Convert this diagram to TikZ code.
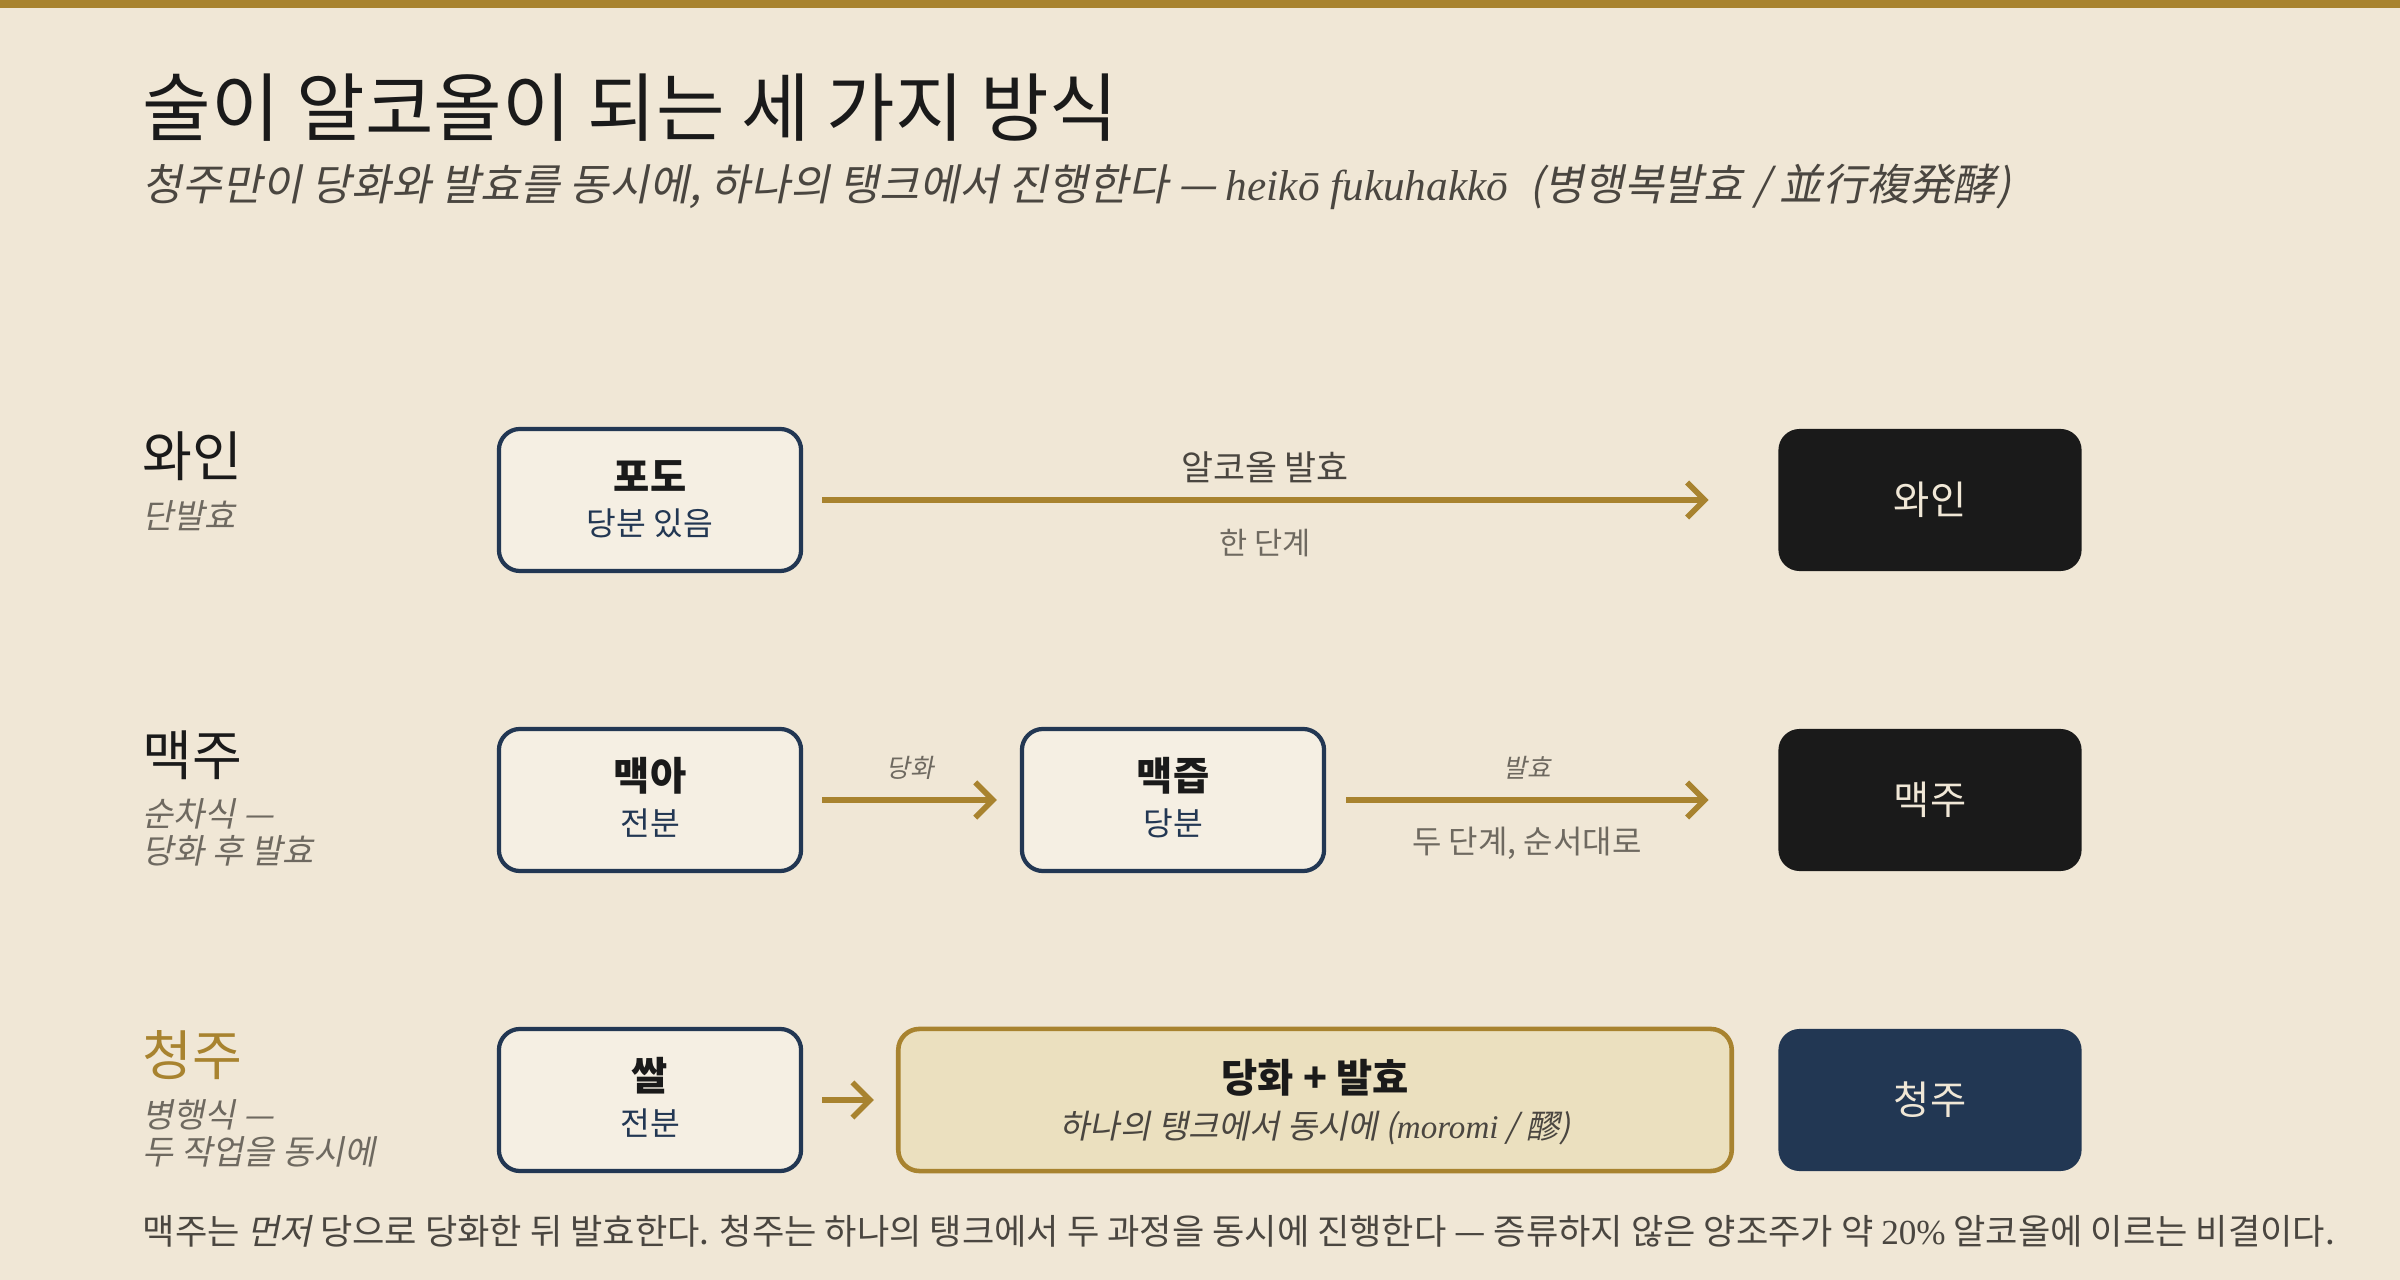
\documentclass[tikz,border=0pt]{standalone}
\usepackage{fontspec}
\setmainfont{Noto Sans CJK KR}[AutoFakeSlant=0.2]
\newfontfamily\latinserif{Liberation Serif}
\usetikzlibrary{arrows.meta}
\usetikzlibrary{calc}
\definecolor{paper}{HTML}{F0E7D6}
\definecolor{gold}{HTML}{A8832F}
\definecolor{navy}{HTML}{223753}
\definecolor{ink}{HTML}{1A1A1A}
\definecolor{boxfill}{HTML}{F5EFE3}
\definecolor{tankfill}{HTML}{EBE0BF}
\definecolor{muted}{HTML}{4A4640}
\definecolor{soft}{HTML}{6E6960}
\tikzset{srcbox/.style = {draw = navy, fill = boxfill, line width = 1.2pt, rounded corners = 6pt, minimum width = 3.02cm, minimum height = 1.42cm}}
\tikzset{endbox/.style = {fill = ink, rounded corners = 6pt, minimum width = 3.03cm, minimum height = 1.42cm, text = paper, font = \fontsize{11.2}{13}\selectfont}}
\tikzset{tankbox/.style = {draw = gold, fill = tankfill, line width = 1.3pt, rounded corners = 6pt, minimum width = 8.33cm, minimum height = 1.42cm}}
\tikzset{flow/.style = {draw = gold, line width = 1.6pt, -{Straight Barb[length = 5pt, width = 10pt]}}}
\tikzset{boxhead/.style = {inner sep = 0, text = ink, font = \bfseries\fontsize{11.2}{13}\selectfont}}
\tikzset{boxsub/.style = {inner sep = 0, text = navy, font = \fontsize{9.2}{11}\selectfont}}
\tikzset{rowname/.style = {anchor = west, inner sep = 0, text = ink, font = \fontsize{15.4}{18}\selectfont}}
\tikzset{rownote/.style = {anchor = west, inner sep = 0, align = left, text = soft, font = \itshape\fontsize{9.6}{10.5}\selectfont}}
\tikzset{steplabel/.style = {inner sep = 0, text = soft, font = \fontsize{8.7}{10}\selectfont}}

\begin{document}
\begin{tikzpicture}[x = 0.01cm, y = -0.01cm]
    \useasboundingbox (0, 0) rectangle (2400, 1280);
    \fill [paper] (0, 0) rectangle (2400, 1280);
    \fill [gold] (0, 0) rectangle (2400, 8);

    \node [anchor = west, inner sep = 0, text = ink, font = \fontsize{21.2}{25}\selectfont] (title) at (142, 108) {술이 알코올이 되는 세 가지 방식};
    \node [anchor = west, inner sep = 0, text = muted, font = \itshape\fontsize{12.3}{15}\selectfont] (subtitle) at (142, 187)
        {청주만이 당화와 발효를 동시에, 하나의 탱크에서 진행한다 — {\latinserif heikō fukuhakkō}\enspace(병행복발효 / 並行複発酵)};

    \node [rowname] (winename) at (142, 456) {와인};
    \node [rownote] (winenote) at (142, 516) {단발효};
    \node [rowname] (beername) at (142, 755) {맥주};
    \node [rownote] (beernote) at (142, 832) {순차식 —\\당화 후 발효};
    \node [rowname, text = gold] (sakename) at (142, 1055) {청주};
    \node [rownote] (sakenote) at (142, 1133) {병행식 —\\두 작업을 동시에};

    \node [srcbox] (grape) at (650, 500) {};
    \node [boxhead] (grapehead) at ($(grape) + (0, -24)$) {포도};
    \node [boxsub] (grapesub) at ($(grape) + (0, 23)$) {당분 있음};
    \node [endbox] (wine) at (1930, 500) {와인};
    \draw [flow, shorten <= 0.19cm, shorten >= 0.69cm] (grape) -- (wine);
    \node [inner sep = 0, text = muted, font = \fontsize{9.9}{12}\selectfont] (winestep) at (1265, 467) {알코올 발효};
    \node [steplabel] (winecount) at (1265, 543) {한 단계};

    \node [srcbox] (malt) at (650, 800) {};
    \node [boxhead] (malthead) at ($(malt) + (0, -24)$) {맥아};
    \node [boxsub] (maltsub) at ($(malt) + (0, 23)$) {전분};
    \node [srcbox] (wort) at (1173, 800) {};
    \node [boxhead] (worthead) at ($(wort) + (0, -24)$) {맥즙};
    \node [boxsub] (wortsub) at ($(wort) + (0, 23)$) {당분};
    \node [endbox] (beer) at (1930, 800) {맥주};
    \draw [flow, shorten <= 0.19cm, shorten >= 0.23cm] (malt) -- (wort);
    \draw [flow, shorten <= 0.2cm, shorten >= 0.69cm] (wort) -- (beer);
    \node [steplabel, font = \itshape\fontsize{7.3}{9}\selectfont] (maltstep) at (910, 768) {당화};
    \node [steplabel, font = \itshape\fontsize{7.3}{9}\selectfont] (wortstep) at (1527, 768) {발효};
    \node [steplabel, font = \fontsize{9.1}{11}\selectfont] (beercount) at (1527, 843) {두 단계, 순서대로};

    \node [srcbox] (rice) at (650, 1100) {};
    \node [boxhead] (ricehead) at ($(rice) + (0, -24)$) {쌀};
    \node [boxsub] (ricesub) at ($(rice) + (0, 23)$) {전분};
    \node [tankbox] (tank) at (1315, 1100) {};
    \node [boxhead] (tankhead) at ($(tank) + (0, -22)$) {당화 + 발효};
    \node [inner sep = 0, text = muted, font = \itshape\fontsize{9.4}{11}\selectfont] (tanksub) at ($(tank) + (0, 28)$)
        {하나의 탱크에서 동시에 ({\latinserif moromi} / 醪)};
    \node [endbox, fill = navy] (sake) at (1930, 1100) {청주};
    \draw [flow, shorten <= 0.19cm, shorten >= 0.22cm] (rice) -- (tank);

    \node [anchor = west, inner sep = 0, text = muted, font = \fontsize{10}{12}\selectfont] (footer) at (142, 1231)
        {맥주는 \emph{먼저} 당으로 당화한 뒤 발효한다. 청주는 하나의 탱크에서 두 과정을 동시에 진행한다 — 증류하지 않은 양조주가 약 {\latinserif 20\%} 알코올에 이르는 비결이다.};
  \end{tikzpicture}
\end{document}
